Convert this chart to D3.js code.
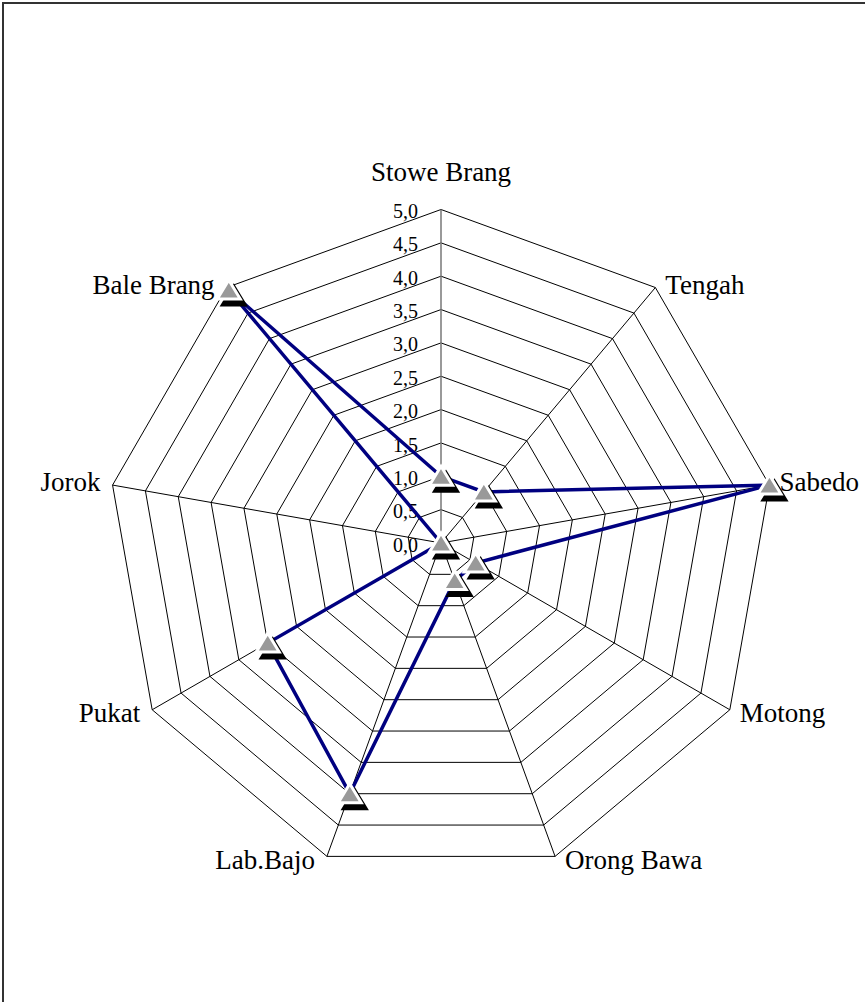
<!DOCTYPE html>
<html>
<head>
<meta charset="utf-8">
<script src="https://cdn.jsdelivr.net/npm/d3@7"></script>
<style>
  body { margin: 0; background: #fff; overflow: hidden; }
  text { font-family: "Liberation Serif", "Times New Roman", serif; fill: #000; }
</style>
</head>
<body>
<script>
// categories, clockwise from the top
var categories = ["Stowe Brang", "Tengah", "Sabedo", "Motong", "Orong Bawa",
                  "Lab.Bajo", "Pukat", "Jorok", "Bale Brang"];
// one series, values
var values = [1.0, 1.0, 5.0, 0.6, 0.6, 4.0, 3.0, 0.0, 4.95];
// radial axis ticks
var tickValues = [0, 0.5, 1, 1.5, 2, 2.5, 3, 3.5, 4, 4.5, 5];
var tickLabels = ["0,0", "0,5", "1,0", "1,5", "2,0", "2,5", "3,0", "3,5", "4,0", "4,5", "5,0"];

var width = 865, height = 1002;
var cx = 441, cy = 543, R = 333.5;

var svg = d3.select("body").append("svg")
  .attr("width", width)
  .attr("height", height)
  .style("display", "block");

// frame (runs off the right and bottom edge like the original)
svg.append("rect")
  .attr("x", 3).attr("y", 3)
  .attr("width", width + 20).attr("height", height + 20)
  .attr("fill", "#fff")
  .attr("stroke", "#333")
  .attr("stroke-width", 2);

var r = d3.scaleLinear().domain([0, 5]).range([0, R]);
var angle = d3.scalePoint().domain(d3.range(categories.length + 1)).range([0, 2 * Math.PI]);

function pt(i, v) {
  var a = angle(i);
  return [cx + r(v) * Math.sin(a), cy - r(v) * Math.cos(a)];
}

var g = svg.append("g");

// rings
tickValues.slice(1).forEach(function(v) {
  g.append("polygon")
    .attr("points", categories.map(function(c, i) { return pt(i, v).join(","); }).join(" "))
    .attr("fill", "none")
    .attr("stroke", "#000")
    .attr("stroke-width", 1);
});

// spokes
categories.forEach(function(c, i) {
  var p = pt(i, 5);
  g.append("line")
    .attr("x1", cx).attr("y1", cy)
    .attr("x2", p[0]).attr("y2", p[1])
    .attr("stroke", i === 0 ? "#777" : "#000")
    .attr("stroke-width", i === 0 ? 1.5 : 1);
});

// tick labels on the vertical axis
g.selectAll("text.tick")
  .data(tickValues)
  .enter().append("text")
  .attr("class", "tick")
  .attr("x", cx - 23)
  .attr("y", function(d) { return cy - r(d) + 4; })
  .attr("text-anchor", "end")
  .attr("dominant-baseline", "middle")
  .style("font-size", "20px")
  .text(function(d, i) { return tickLabels[i]; });

// data line
var lineData = values.concat([values[0]]).map(function(v, i) { return pt(i, v); });
g.append("path")
  .attr("d", d3.line()(lineData))
  .attr("fill", "none")
  .attr("stroke", "#000080")
  .attr("stroke-width", 3.5)
  .attr("stroke-linejoin", "miter");

// markers: black shadow, then grey triangle with white edge
var tri = "M0,-10L11.5,9L-11.5,9Z";
var markers = g.selectAll("g.marker")
  .data(values)
  .enter().append("g")
  .attr("class", "marker")
  .attr("transform", function(d, i) { var p = pt(i, d); return "translate(" + p[0] + "," + p[1] + ")"; });

markers.append("path")
  .attr("d", tri)
  .attr("transform", "translate(5,6)")
  .attr("fill", "#000")
  .attr("stroke", "#000")
  .attr("stroke-width", 3);

markers.append("path")
  .attr("d", tri)
  .attr("fill", "#999")
  .attr("stroke", "#fff")
  .attr("stroke-width", 3);

// category labels
categories.forEach(function(c, i) {
  var p = pt(i, 5);
  var s = Math.sin(angle(i)), co = Math.cos(angle(i));
  var x = p[0], y = p[1], anchor = "middle";
  if (i === 0) { y = p[1] - 35; }
  else {
    x += s > 0 ? 10 : -12;
    anchor = s > 0 ? "start" : "end";
    y += co < 0 ? 6 : 0;
  }
  g.append("text")
    .attr("x", x).attr("y", y)
    .attr("text-anchor", anchor)
    .attr("dominant-baseline", "middle")
    .style("font-size", "27px")
    .text(c);
});
</script>
</body>
</html>
